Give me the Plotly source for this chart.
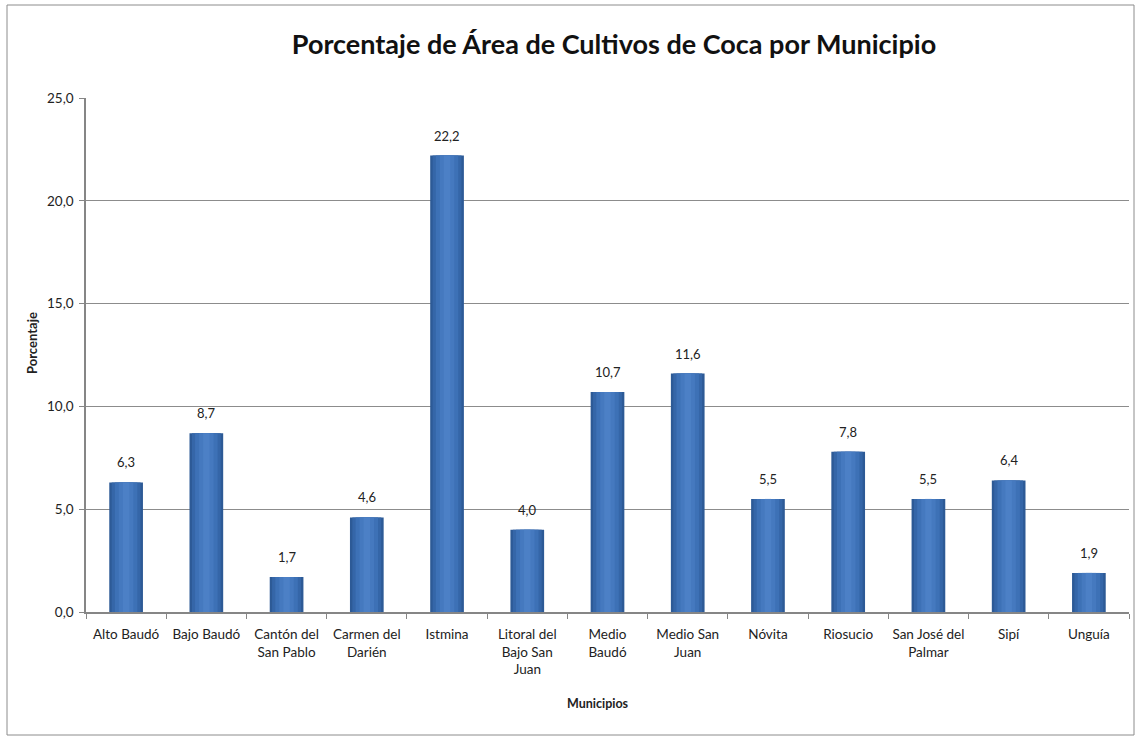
import plotly.graph_objects as go

# Municipios y porcentaje del área con cultivos de coca
municipios = [
    "Alto Baudó", "Bajo Baudó", "Cantón del<br>San Pablo", "Carmen del<br>Darién",
    "Istmina", "Litoral del<br>Bajo San<br>Juan", "Medio<br>Baudó", "Medio San<br>Juan",
    "Nóvita", "Riosucio", "San José del<br>Palmar", "Sipí", "Unguía",
]
porcentaje = [6.3, 8.7, 1.7, 4.6, 22.2, 4.0, 10.7, 11.6, 5.5, 7.8, 5.5, 6.4, 1.9]
y_ticks = [0, 5, 10, 15, 20, 25]

W, H = 1137, 738
L, R, T, B = 86, 8, 98, 126
pw, ph = W - L - R, H - T - B

fig = go.Figure()

# Cylinder-like shading: stacked overlays of narrower, lighter bars
layers = [
    (0.42, "#2D5A96"),
    (0.36, "#3566A8"),
    (0.28, "#3D71B6"),
    (0.18, "#4579BF"),
    (0.08, "#4C80C6"),
]
for width, color in layers:
    fig.add_trace(go.Bar(
        x=municipios, y=porcentaje, width=width,
        marker=dict(color=color, line=dict(width=0)),
        hoverinfo="skip", showlegend=False,
    ))

# Value labels above bars
for m, v in zip(municipios, porcentaje):
    fig.add_annotation(
        x=m, y=v, text=f"{v:.1f}".replace(".", ","), showarrow=False,
        yanchor="bottom", yshift=10,
        font=dict(family="Lato", size=13, color="#222222"),
    )

# Axis titles
fig.add_annotation(
    xref="paper", yref="paper", x=(598 - L) / pw, y=(H - B - 703) / ph,
    xanchor="center", yanchor="middle",
    text="<b>Municipios</b>", showarrow=False,
    font=dict(family="Lato", size=12.5, color="#222222"),
)
fig.add_annotation(
    xref="paper", yref="paper", x=(32 - L) / pw, y=(H - B - 343) / ph,
    xanchor="center", yanchor="middle",
    text="<b>Porcentaje</b>", showarrow=False, textangle=-90,
    font=dict(family="Lato", size=13, color="#222222"),
)

# Outer chart border
fig.add_shape(
    type="rect", xref="paper", yref="paper",
    x0=(7 - L) / pw, x1=(1134 - L) / pw,
    y0=(H - B - 735) / ph, y1=(H - B - 5) / ph,
    line=dict(color="#8C8C8C", width=1),
)

fig.update_layout(
    width=W, height=H,
    margin=dict(l=L, r=R, t=T, b=B),
    paper_bgcolor="white", plot_bgcolor="white",
    barmode="overlay",
    separators=",.",
    title=dict(
        text="<b>Porcentaje de Área de Cultivos de Coca por Municipio</b>",
        x=614 / W, xanchor="center", y=1 - 45 / H, yanchor="middle",
        font=dict(family="Lato", size=27, color="#111111"),
    ),
    font=dict(family="Lato", size=13, color="#222222"),
    xaxis=dict(
        showline=True, linecolor="#868686", linewidth=1.5,
        ticks="outside", tickson="boundaries", ticklen=5, tickcolor="#868686",
        tickangle=0, ticklabelstandoff=9,
        tickfont=dict(family="Lato", size=13.5, color="#222222"),
        showgrid=False,
    ),
    yaxis=dict(
        range=[0, 25], tickvals=y_ticks, tickformat=".1f",
        showline=True, linecolor="#868686", linewidth=1.5,
        ticks="outside", ticklen=5, tickcolor="#868686",
        ticklabelstandoff=3,
        showgrid=True, gridcolor="#8C8C8C", gridwidth=1,
        zeroline=False,
        tickfont=dict(family="Lato", size=13.5, color="#222222"),
    ),
)

fig.write_html("out.html")
